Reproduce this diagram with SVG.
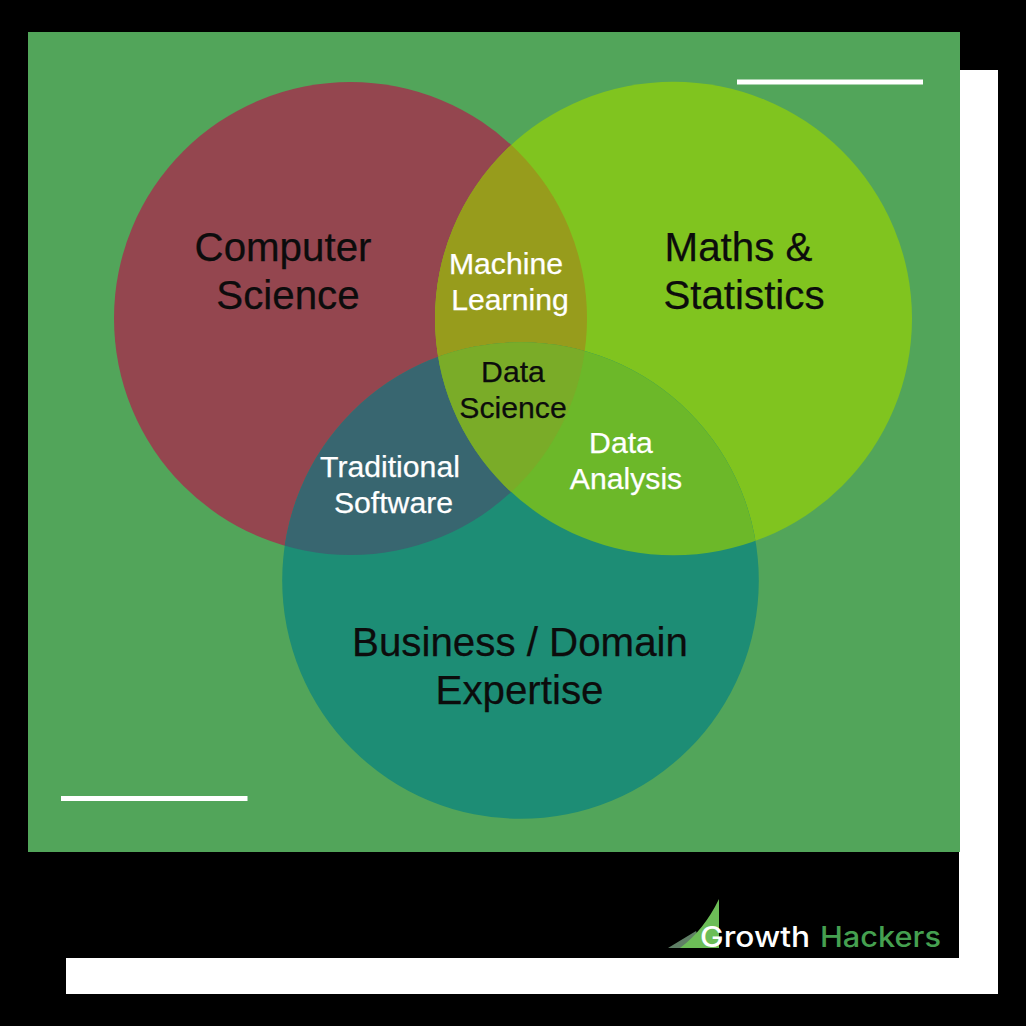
<svg xmlns="http://www.w3.org/2000/svg" width="1026" height="1026" viewBox="0 0 1026 1026">
<defs>
<clipPath id="cr"><circle cx="350.5" cy="318.5" r="236.5"/></clipPath>
<clipPath id="cl"><ellipse cx="673.5" cy="318.5" rx="238.5" ry="236.8"/></clipPath>
<clipPath id="ct"><circle cx="520.5" cy="580.5" r="238"/></clipPath>
</defs>
<style>
text{font-family:"Liberation Sans",Arial,sans-serif;text-anchor:middle}
.big{font-size:40.3px;fill:#0c0c0c;stroke:#0c0c0c;stroke-width:.25px}
.small{font-size:30.2px;fill:#fff;stroke:#fff;stroke-width:.25px}
.dark{fill:#0c0c0c;stroke:#0c0c0c}
.logo{font-family:"Inter","Liberation Sans",sans-serif;font-size:28px;font-weight:500;text-anchor:start}
</style>
<rect width="1026" height="1026" fill="#000"/>
<rect x="66" y="70" width="932" height="924" fill="#fff"/>
<rect x="28" y="32" width="932" height="820" fill="#52a55a"/>
<rect x="28" y="852" width="931" height="106" fill="#000"/>
<rect x="737" y="79.500" width="186" height="5" fill="#fff"/>
<rect x="61" y="796" width="186.500" height="5" fill="#fff"/>
<g id="computer-science">
<circle cx="350.500" cy="318.500" r="236.500" fill="#94464f"/>
</g>
<g id="maths-statistics">
<ellipse cx="673.500" cy="318.500" rx="238.500" ry="236.800" fill="#80c41f"/>
</g>
<g id="business-domain">
<circle cx="520.500" cy="580.500" r="238.300" fill="#1d8d75"/>
</g>
<g id="machine-learning">
<g clip-path="url(#cr)"><ellipse cx="673.500" cy="318.500" rx="238.500" ry="236.800" fill="#979c1c"/></g>
</g>
<g id="traditional-software">
<g clip-path="url(#cr)"><circle cx="520.500" cy="580.500" r="238.300" fill="#386670"/></g>
</g>
<g id="data-analysis">
<g clip-path="url(#cl)"><circle cx="520.500" cy="580.500" r="238.300" fill="#6cb829"/></g>
</g>
<g id="data-science">
<g clip-path="url(#cr)"><g clip-path="url(#cl)"><circle cx="520.500" cy="580.500" r="238.300" fill="#7aac28"/></g></g>
</g>
<g id="labels">
<text class="big" x="283" y="261">Computer</text>
<text class="big" x="288" y="309">Science</text>
<text class="big" x="738.500" y="261">Maths &amp;</text>
<text class="big" x="744" y="309">Statistics</text>
<text class="big" x="520" y="656">Business / Domain</text>
<text class="big" x="519.500" y="704">Expertise</text>
<text class="small" x="506" y="274">Machine</text>
<text class="small" x="510" y="310">Learning</text>
<text class="small dark" x="513" y="382">Data</text>
<text class="small dark" x="513" y="418">Science</text>
<text class="small" x="390" y="477">Traditional</text>
<text class="small" x="393.500" y="513">Software</text>
<text class="small" x="621" y="453">Data</text>
<text class="small" x="626" y="489">Analysis</text>
</g>
<g id="logo">
<path d="M668 948 L696 931 L703 948 Z" fill="#5f7f65"/>
<path d="M680 948 Q704 930 719 899 L719 948 Z" fill="#6cbd57"/>
<text class="logo" x="700" y="947" fill="#fff" textLength="110" lengthAdjust="spacingAndGlyphs">Growth</text>
<text class="logo" x="820" y="947" fill="#45a050" textLength="121" lengthAdjust="spacingAndGlyphs">Hackers</text>
</g>
</svg>
